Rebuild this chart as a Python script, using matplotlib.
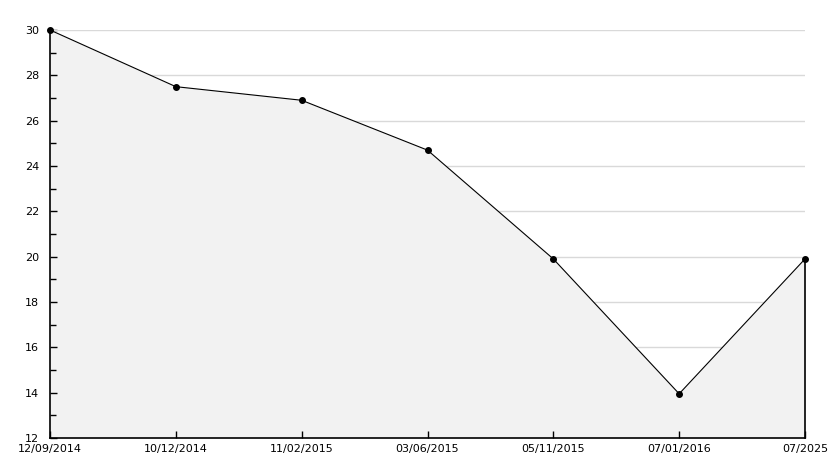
import numpy as np
import matplotlib
matplotlib.use("Agg")
import matplotlib.pyplot as plt
from matplotlib.patches import Polygon
from matplotlib.ticker import MultipleLocator
from matplotlib.transforms import ScaledTranslation

# data
dates = ["12/09/2014", "10/12/2014", "11/02/2015", "03/06/2015",
         "05/11/2015", "07/01/2016", "07/2025"]
values = [30.0, 27.5, 26.9, 24.7, 19.9, 13.95, 19.9]
y_min, y_max = 12, 30

fig = plt.figure(figsize=(8.34, 4.68), dpi=100)
ax = fig.add_axes([50 / 834, 30 / 468, 755 / 834, 408 / 468])

x = np.arange(len(values))

ax.fill_between(x, values, y_min, color="#f2f2f2", linewidth=0, zorder=1)

# grid lines only show above the filled area
above = np.column_stack([np.r_[x, x[-1], x[0]], np.r_[values, y_max + 1, y_max + 1]])
clip = Polygon(above, closed=True, transform=ax.transData, visible=False)
ax.add_patch(clip)
for gy in range(y_min + 2, y_max + 1, 2):
    gl = ax.axhline(gy, color="#d9d9d9", linewidth=1, zorder=2)
    gl.set_clip_path(clip)

# right edge of the filled area
ax.plot([x[-1], x[-1]], [y_min, values[-1]], color="black", linewidth=1.2,
        zorder=3, clip_on=False)
ax.plot(x, values, color="black", linewidth=0.8, marker="o", markersize=4,
        zorder=4, clip_on=False)

ax.set_xlim(0, len(values) - 1)
ax.set_ylim(y_min, y_max)
ax.yaxis.set_major_locator(MultipleLocator(2))
ax.yaxis.set_minor_locator(MultipleLocator(1))
ax.set_xticks(x)
ax.set_xticklabels(dates)

for side in ("top", "right"):
    ax.spines[side].set_visible(False)
ax.spines["left"].set_linewidth(1.2)
ax.spines["bottom"].set_linewidth(1.2)

ax.tick_params(axis="y", which="major", direction="in", length=5, width=1,
               labelsize=8, pad=8)
ax.tick_params(axis="y", which="minor", direction="in", length=4, width=1)
ax.tick_params(axis="x", direction="in", length=5, width=1, labelsize=8, pad=4)

# lift the lowest y label a little so it sits above the first date
fig.canvas.draw()
low = ax.get_yticklabels()[0]
low.set_transform(low.get_transform() + ScaledTranslation(0, 4 / 100, fig.dpi_scale_trans))

fig.savefig("out.png", dpi=100)
